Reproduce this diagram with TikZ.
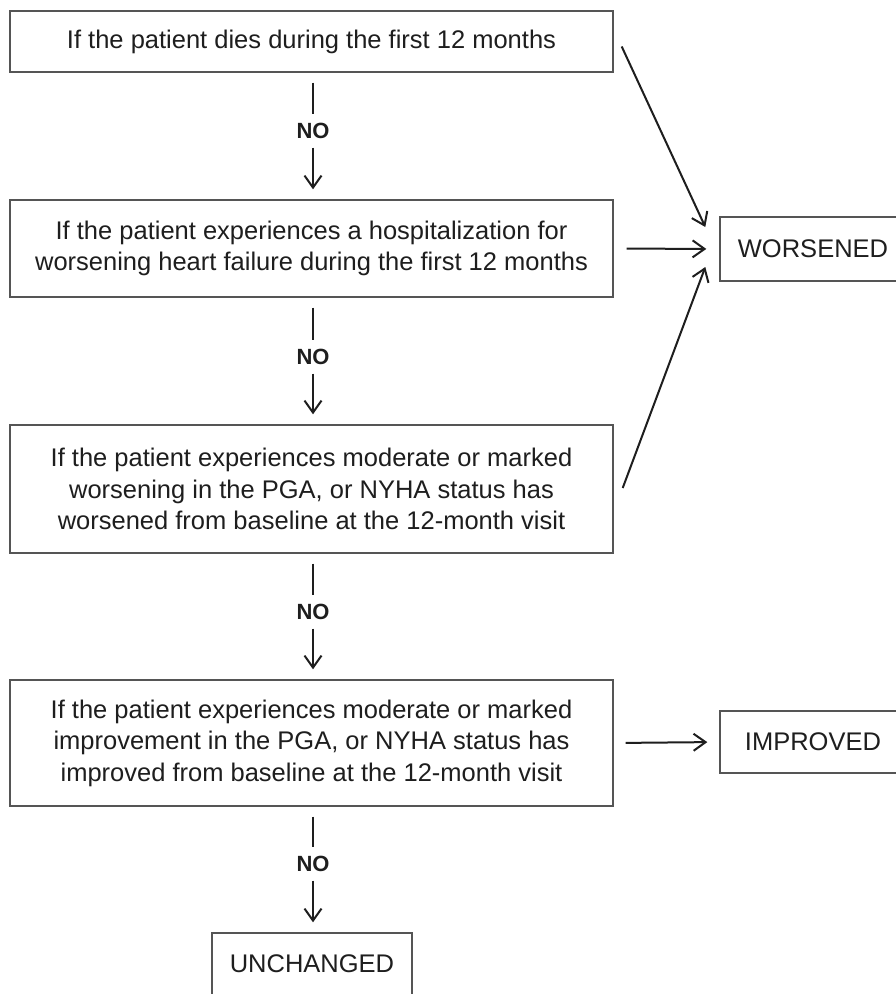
\documentclass[tikz,border=0pt]{standalone}
\usepackage{fontspec}
\setmainfont{Liberation Sans}
\usetikzlibrary{arrows.meta}
\definecolor{boxgray}{HTML}{555555}
\definecolor{ink}{HTML}{1E1E1E}
\begin{document}
\begin{tikzpicture}[x=1pt,y=-1pt,
  box/.style={draw=boxgray,line width=1.4pt,inner sep=0pt,align=center,
    font=\fontsize{25.5}{31.5}\selectfont,text=ink},
  nolabel/.style={inner sep=0pt,minimum height=33pt,font=\fontsize{22}{24}\selectfont\bfseries,text=ink},
  conn/.style={draw=ink,line width=2pt},
  arr/.style={conn,-{Straight Barb[length=12pt,width=17pt,line width=2pt]}}
]
\useasboundingbox (0,0) rectangle (895,994);
\fill[white] (0,0) rectangle (895,994);

\node[box,minimum width=603pt,minimum height=61pt] (b1) at (311.5,41.5)
  {If the patient dies during the first 12 months};
\node[box,minimum width=603pt,minimum height=97pt] (b2) at (311.5,248.5)
  {If the patient experiences a hospitalization for\\worsening heart failure during the first 12 months};
\node[box,minimum width=603pt,minimum height=128pt] (b3) at (311.5,489)
  {If the patient experiences moderate or marked\\worsening in the PGA, or NYHA status has\\worsened from baseline at the 12-month visit};
\node[box,minimum width=603pt,minimum height=126pt] (b4) at (311.5,743)
  {If the patient experiences moderate or marked\\improvement in the PGA, or NYHA status has\\improved from baseline at the 12-month visit};

\node[box,minimum width=186pt,minimum height=64pt] (wors) at (813,249) {WORSENED};
\node[box,minimum width=186pt,minimum height=62pt] (imp) at (813,742) {IMPROVED};
\node[box,minimum width=200pt,minimum height=62pt] (unch) at (312,964) {UNCHANGED};

\node[nolabel] (n1) at (313,131) {NO};
\node[nolabel] (n2) at (313,357) {NO};
\node[nolabel] (n3) at (313,612) {NO};
\node[nolabel] (n4) at (313,864) {NO};

\draw[conn,shorten <=10pt] (b1.south -| n1) -- (n1.north);
\draw[arr,shorten >=10pt] (n1.south) -- (b2.north -| n1);
\draw[conn,shorten <=10pt] (b2.south -| n2) -- (n2.north);
\draw[arr,shorten >=10pt] (n2.south) -- (b3.north -| n2);
\draw[conn,shorten <=10pt] (b3.south -| n3) -- (n3.north);
\draw[arr,shorten >=10pt] (n3.south) -- (b4.north -| n3);
\draw[conn,shorten <=10pt] (b4.south -| n4) -- (n4.north);
\draw[arr,shorten >=10pt] (n4.south) -- (unch.north -| n4);

\draw[arr] ([shift={(8,5)}]b1.east) -- ([shift={(-14,-22)}]wors.west);
\draw[arr,shorten <=13pt,shorten >=13pt] (b2.east) -- (wors.west);
\draw[arr] ([shift={(9,-1)}]b3.east) -- ([shift={(-14,18)}]wors.west);
\draw[arr,shorten <=12pt,shorten >=12pt] (b4.east) -- (imp.west);
\end{tikzpicture}
\end{document}
